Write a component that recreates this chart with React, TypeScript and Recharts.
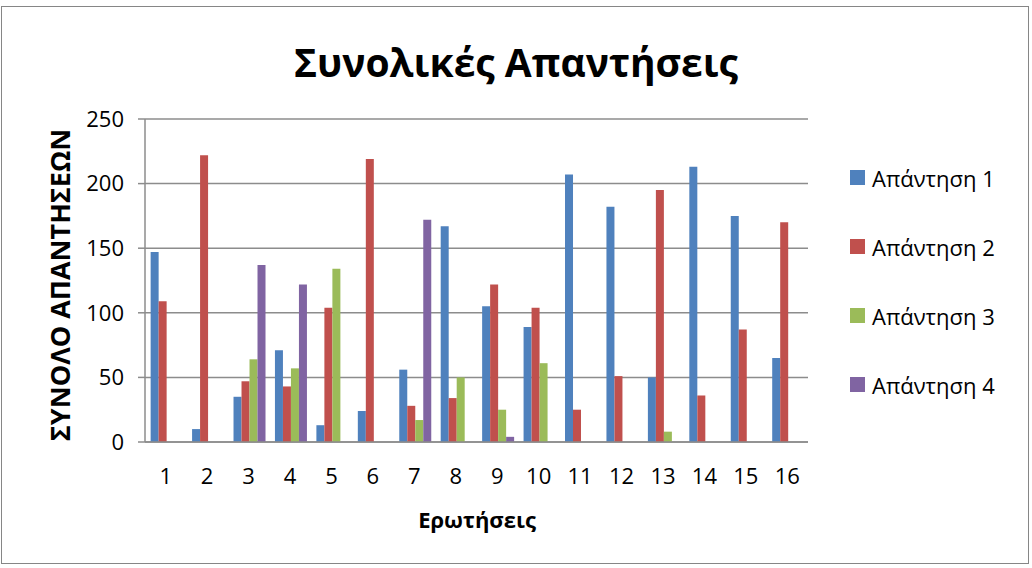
import React from "react";
import {
  BarChart,
  Bar,
  XAxis,
  YAxis,
  CartesianGrid,
} from "recharts";

const questions = ["1", "2", "3", "4", "5", "6", "7", "8", "9", "10", "11", "12", "13", "14", "15", "16"];
const answer1 = [147, 10, 35, 71, 13, 24, 56, 167, 105, 89, 207, 182, 50, 213, 175, 65];
const answer2 = [109, 222, 47, 43, 104, 219, 28, 34, 122, 104, 25, 51, 195, 36, 87, 170];
const answer3 = [0, 0, 64, 57, 134, 0, 17, 50, 25, 61, 0, 0, 8, 0, 0, 0];
const answer4 = [0, 0, 137, 122, 0, 0, 172, 0, 4, 0, 0, 0, 0, 0, 0, 0];
const yTicks = [0, 50, 100, 150, 200, 250];

const seriesNames = ["Απάντηση 1", "Απάντηση 2", "Απάντηση 3", "Απάντηση 4"];
const colors = ["#4F81BD", "#C0504D", "#9BBB59", "#8064A2"];

const data = questions.map((q, i) => ({
  name: q,
  a1: answer1[i],
  a2: answer2[i],
  a3: answer3[i],
  a4: answer4[i],
}));

const font = "'Open Sans', 'Noto Sans', sans-serif";
const axisGray = "#8c8c8c";

const App: React.FC = () => {
  return (
    <div
      style={{
        position: "absolute",
        left: 1,
        top: 6,
        width: 1026,
        height: 556,
        border: "1px solid #868686",
        background: "#fff",
        fontFamily: font,
      }}
    >
      <div
        style={{
          position: "absolute",
          left: 0,
          width: 1028,
          top: 30,
          textAlign: "center",
          fontSize: 39,
          fontWeight: 700,
          lineHeight: "50px",
          color: "#000",
        }}
      >
        Συνολικές Απαντήσεις
      </div>
      <div
        style={{
          position: "absolute",
          left: 57,
          top: 278,
          transform: "translate(-50%, -50%) rotate(-90deg)",
          whiteSpace: "nowrap",
          fontSize: 27,
          fontWeight: 700,
          color: "#000",
        }}
      >
        ΣΥΝΟΛΟ ΑΠΑΝΤΗΣΕΩΝ
      </div>
      <div
        style={{
          position: "absolute",
          left: 475,
          top: 512,
          transform: "translate(-50%, -50%)",
          whiteSpace: "nowrap",
          fontSize: 22,
          fontWeight: 700,
          color: "#000",
        }}
      >
        Ερωτήσεις
      </div>
      {/* legend */}
      <div style={{ position: "absolute", left: 848, top: 136 }}>
        {seriesNames.map((n, i) => (
          <div
            key={n}
            style={{ display: "flex", alignItems: "center", height: 69, fontSize: 22, color: "#000" }}
          >
            <span
              style={{
                display: "inline-block",
                width: 15,
                height: 15,
                background: colors[i],
                marginRight: 7,
              }}
            />
            {n}
          </div>
        ))}
      </div>
      <BarChart
        width={1026}
        height={556}
        data={data}
        margin={{ top: 112, right: 220, left: 83, bottom: 81 }}
        barCategoryGap="13.6%"
        barGap={0}
      >
        <CartesianGrid vertical={false} stroke={axisGray} strokeWidth={1.5} />
        <XAxis
          dataKey="name"
          tickLine={false}
          axisLine={{ stroke: axisGray, strokeWidth: 1.5 }}
          tick={{ fill: "#000", fontSize: 22, fontFamily: font }}
          tickMargin={20}
          height={40}
          interval={0}
        />
        <YAxis
          domain={[0, 250]}
          ticks={yTicks}
          width={60}
          tickSize={7}
          tickMargin={14}
          tickLine={{ stroke: axisGray, strokeWidth: 1.5 }}
          axisLine={{ stroke: axisGray, strokeWidth: 1.5 }}
          tick={{ fill: "#000", fontSize: 22, fontFamily: font }}
          interval={0}
        />
        <Bar dataKey="a1" name={seriesNames[0]} fill={colors[0]} isAnimationActive={false} />
        <Bar dataKey="a2" name={seriesNames[1]} fill={colors[1]} isAnimationActive={false} />
        <Bar dataKey="a3" name={seriesNames[2]} fill={colors[2]} isAnimationActive={false} />
        <Bar dataKey="a4" name={seriesNames[3]} fill={colors[3]} isAnimationActive={false} />
      </BarChart>
    </div>
  );
};

export default App;
